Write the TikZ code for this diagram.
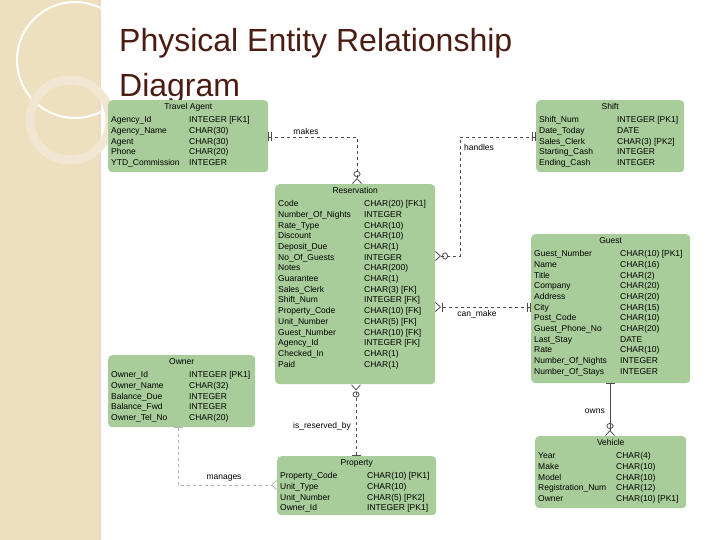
\documentclass[tikz,border=0pt]{standalone}
\usepackage{fontspec}
\setmainfont{Liberation Sans}
\usetikzlibrary{arrows.meta,calc}
\definecolor{boxgreen}{HTML}{A9CD9A}
\definecolor{titlebrown}{HTML}{4A1C12}
\definecolor{sidebeige}{HTML}{EDE0BF}
\tikzset{
  entity/.style={fill=boxgreen, draw=none, rounded corners=4pt, anchor=north west, inner sep=0pt},
  etitle/.style={font=\fontsize{8.5}{10}\selectfont, anchor=north, inner sep=0pt},
  erows/.style={font=\fontsize{8.5}{10.7}\selectfont, anchor=north west, inner sep=0pt, align=left},
  rel/.style={draw=black!70, dashed, thick},
  rlabel/.style={font=\fontsize{8.5}{10}\selectfont, inner sep=1pt},
  one/.tip={Bar[width=9pt]},
  two/.tip={Bar[width=9pt,sep=2pt]Bar[width=9pt]},
  crow/.tip={Straight Barb[reversed,length=5pt,width=9pt]},
  crowo/.tip={Circle[open,length=6pt,width=7pt,sep=1pt]Straight Barb[reversed,length=5pt,width=9pt]},
  crowbar/.tip={Bar[width=9pt,sep=1pt]Straight Barb[reversed,length=5pt,width=9pt]},
}
% \entity{name}{x}{y}{w}{h}{type column}{title}{rows}
\newcommand{\entity}[8]{
  \node[entity, minimum width=#4pt, minimum height=#5pt] (#1) at (#2,#3) {};
  \node[etitle] (#1t) at ($(#1.north)+(0,3)$) {#7};
  \node[erows] (#1r) at ($(#1.north west)+(3,15)$)
    {\begin{tabular}{@{}p{#6pt}@{}l@{}}#8\end{tabular}};
}
\begin{document}
\begin{tikzpicture}[x=1pt, y=-1pt]
\useasboundingbox (0,0) rectangle (720,540);

% slide background
\fill[sidebeige] (0,0) rectangle (100,540);
\fill[sidebeige!70!brown!60] (98,0) rectangle (101,540);
\draw[white, line width=2pt] (75,60) circle (58);
\draw[sidebeige!80!brown!50, line width=9pt] (70,120) circle (40);
\node[anchor=north west, font=\fontsize{32}{45}\selectfont, text=titlebrown, align=left, inner sep=0pt] (title) at (119,28)
  {Physical Entity Relationship\\Diagram};

% entities
\entity{agent}{108}{100}{160}{72}{78}{Travel\ Agent}{%
Agency\_Id & INTEGER [FK1]\\ Agency\_Name & CHAR(30)\\ Agent & CHAR(30)\\
Phone & CHAR(20)\\ YTD\_Commission & INTEGER}
\entity{res}{275}{184}{160}{200}{86}{Reservation}{%
Code & CHAR(20) [FK1]\\ Number\_Of\_Nights & INTEGER\\ Rate\_Type & CHAR(10)\\
Discount & CHAR(10)\\ Deposit\_Due & CHAR(1)\\ No\_Of\_Guests & INTEGER\\
Notes & CHAR(200)\\ Guarantee & CHAR(1)\\ Sales\_Clerk & CHAR(3) [FK]\\
Shift\_Num & INTEGER [FK]\\ Property\_Code & CHAR(10) [FK]\\ Unit\_Number & CHAR(5) [FK]\\
Guest\_Number & CHAR(10) [FK]\\ Agency\_Id & INTEGER [FK]\\ Checked\_In & CHAR(1)\\
Paid & CHAR(1)}
\entity{shift}{536}{100}{148}{72}{78}{Shift}{%
Shift\_Num & INTEGER [PK1]\\ Date\_Today & DATE\\ Sales\_Clerk & CHAR(3) [PK2]\\
Starting\_Cash & INTEGER\\ Ending\_Cash & INTEGER}
\entity{guest}{531}{234}{159}{149}{86}{Guest}{%
Guest\_Number & CHAR(10) [PK1]\\ Name & CHAR(16)\\ Title & CHAR(2)\\
Company & CHAR(20)\\ Address & CHAR(20)\\ City & CHAR(15)\\ Post\_Code & CHAR(10)\\
Guest\_Phone\_No & CHAR(20)\\ Last\_Stay & DATE\\ Rate & CHAR(10)\\
Number\_Of\_Nights & INTEGER\\ Number\_Of\_Stays & INTEGER}
\entity{owner}{108}{355}{147}{72}{78}{Owner}{%
Owner\_Id & INTEGER [PK1]\\ Owner\_Name & CHAR(32)\\ Balance\_Due & INTEGER\\
Balance\_Fwd & INTEGER\\ Owner\_Tel\_No & CHAR(20)}
\entity{prop}{277}{456}{159}{59}{87}{Property}{%
Property\_Code & CHAR(10) [PK1]\\ Unit\_Type & CHAR(10)\\
Unit\_Number & CHAR(5) [PK2]\\ Owner\_Id & INTEGER [PK1]}
\entity{veh}{535}{436}{151}{72}{78}{Vehicle}{%
Year & CHAR(4)\\ Make & CHAR(10)\\ Model & CHAR(10)\\
Registration\_Num & CHAR(12)\\ Owner & CHAR(10) [PK1]}

% relationships
\coordinate (mk) at (357,137);
\coordinate (hd) at (460,137);
\coordinate (hdr) at (435,256);
\coordinate (cm) at (435,307);
\coordinate (ir) at (356,420);
\coordinate (mg) at (178,485);
\coordinate (ow) at (610,410);
\draw[rel, {two}-{crowo}] (agent.east |- mk) -- (mk) -- (res.north -| mk);
\node[rlabel] (mkl) at (306,131) {makes};
\draw[rel, {two}-{crowo}] (shift.west |- hd) -- (hd) -- (hd |- hdr) -- (hdr);
\node[rlabel, anchor=west] (hdl) at (463,147) {handles};
\draw[rel, {two}-{crowbar}] (guest.west |- cm) -- (cm);
\node[rlabel] (cml) at (477,314) {can\_make};
\draw[rel, {one}-{crowo}] (prop.north -| ir) -- (res.south -| ir);
\node[rlabel, anchor=east] (irl) at (352,426) {is\_reserved\_by};
\draw[rel, draw=black!30, {one}-{crow}] (owner.south -| mg) -- (mg) -- (prop.west |- mg);
\node[rlabel] (mgl) at (224,478) {manages};
\draw[draw=black!70, thick, {one}-{crowo}] (guest.south -| ow) -- (veh.north -| ow);
\node[rlabel, anchor=east] (owl) at (606,411) {owns};
\end{tikzpicture}
\end{document}
